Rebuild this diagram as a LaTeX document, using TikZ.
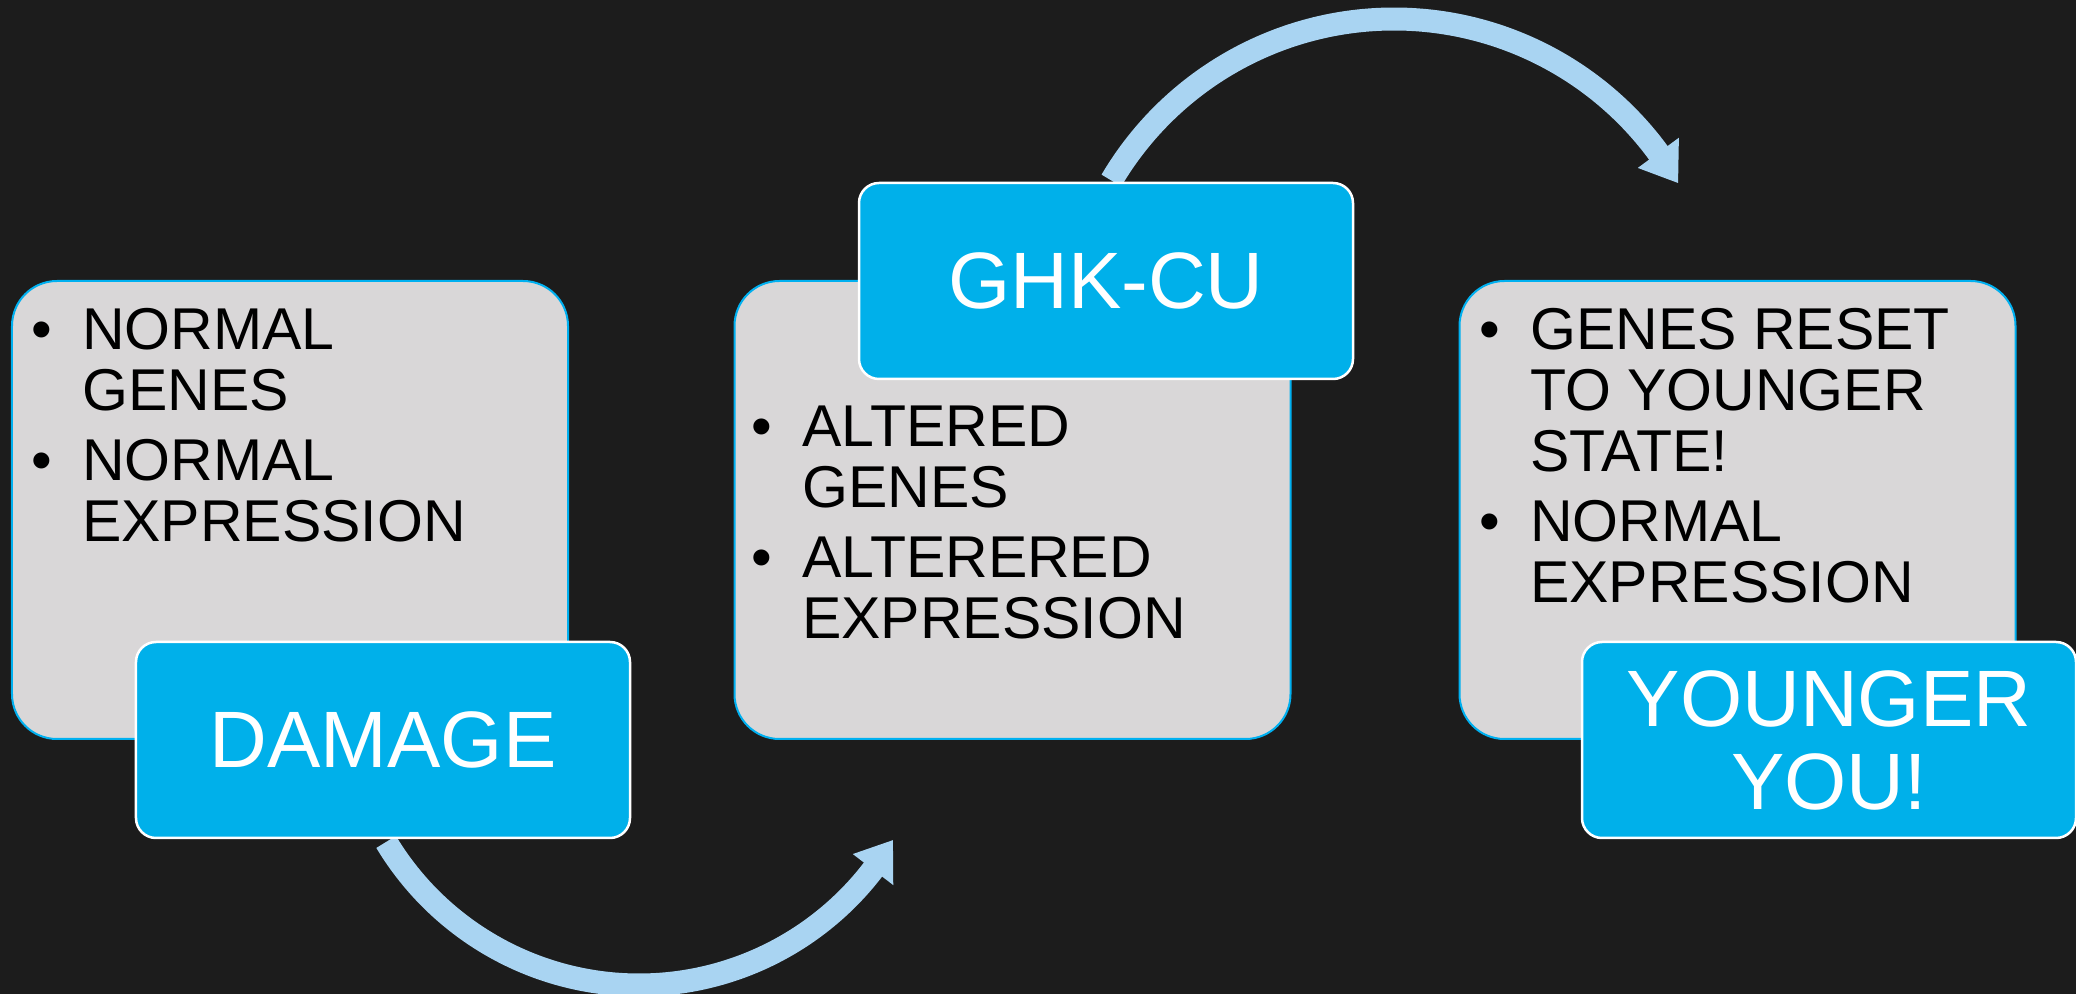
\documentclass[tikz,border=0pt]{standalone}
\usepackage{fontspec}
\setmainfont{Liberation Sans}
\usetikzlibrary{calc}
\definecolor{bgc}{HTML}{1C1C1C}
\definecolor{grayfill}{HTML}{D9D7D8}
\definecolor{bluefill}{HTML}{00B0EA}
\definecolor{blueline}{HTML}{00B0F0}
\definecolor{arrowc}{HTML}{A9D4F2}
\newcommand{\bul}{\noindent\llap{\makebox[51bp][l]{•}}}
\newcommand{\txtfont}{\fontsize{59bp}{61bp}\selectfont\setlength{\parskip}{8.5bp}\setlength{\parindent}{0pt}\raggedright}
\begin{document}
\begin{tikzpicture}[x=1bp,y=1bp,
  graybox/.style={draw=blueline, line width=2bp, fill=grayfill, rounded corners=45bp, inner sep=0pt, minimum width=556bp, minimum height=458bp},
  bluebox/.style={draw=white, line width=2.5bp, fill=bluefill, rounded corners=20bp, inner sep=0pt, minimum width=494bp, minimum height=196bp, text=white, font=\fontsize{80bp}{83bp}\selectfont, align=center},
  txt/.style={inner sep=0pt, anchor=base west, text=black},
  flow/.style={draw=arrowc, line width=23bp, line cap=butt},
  flowhead/.style={fill=arrowc}
]
\fill[bgc] (0,0) rectangle (2076,994);
\useasboundingbox (0,0) rectangle (2076,994);

% arrows (behind boxes)
\coordinate (c1) at (639,304);
\coordinate (a1) at ($(c1)+(211:295)$);
\draw[flow] (a1) arc[start angle=211, end angle=323.5, radius=295];
\coordinate (h1a) at ($(c1)+(322.5:320.5)$);
\coordinate (h1t) at ($(c1)+(329.4:295)$);
\coordinate (h1b) at ($(c1)+(322.5:269.5)$);
\fill[flowhead] (h1a) -- (h1t) -- (h1b) -- cycle;

\coordinate (c2) at (1394,647);
\coordinate (a2) at ($(c2)+(149.5:328)$);
\draw[flow] (a2) arc[start angle=149.5, end angle=35.3, radius=328];
\coordinate (h2a) at ($(c2)+(36.3:353.5)$);
\coordinate (h2t) at ($(c2)+(30:328)$);
\coordinate (h2b) at ($(c2)+(36.3:302.5)$);
\fill[flowhead] (h2a) -- (h2t) -- (h2b) -- cycle;

% gray boxes
\node[graybox] (b1) at (290,484) {};
\node[graybox] (b2) at (1012.5,484) {};
\node[graybox] (b3) at (1737.5,484) {};

% texts in gray boxes
\node[txt] (t1) at (82,644) {\begin{minipage}[t]{480bp}\txtfont
\bul NORMAL\\GENES\par
\bul NORMAL\\EXPRESSION\end{minipage}};
\node[txt] (t2) at (802,547) {\begin{minipage}[t]{480bp}\txtfont
\bul ALTERED\\GENES\par
\bul ALTERERED\\EXPRESSION\end{minipage}};
\node[txt] (t3) at (1530,644) {\begin{minipage}[t]{480bp}\txtfont
\bul GENES RESET\\TO YOUNGER\\STATE!\par
\bul NORMAL\\EXPRESSION\end{minipage}};

% blue boxes
\node[bluebox] (dmg) at (383,254) {DAMAGE};
\node[bluebox] (ghk) at (1106,713) {GHK-CU};
\node[bluebox] (yng) at (1829,254) {YOUNGER\\YOU!};
\end{tikzpicture}
\end{document}
